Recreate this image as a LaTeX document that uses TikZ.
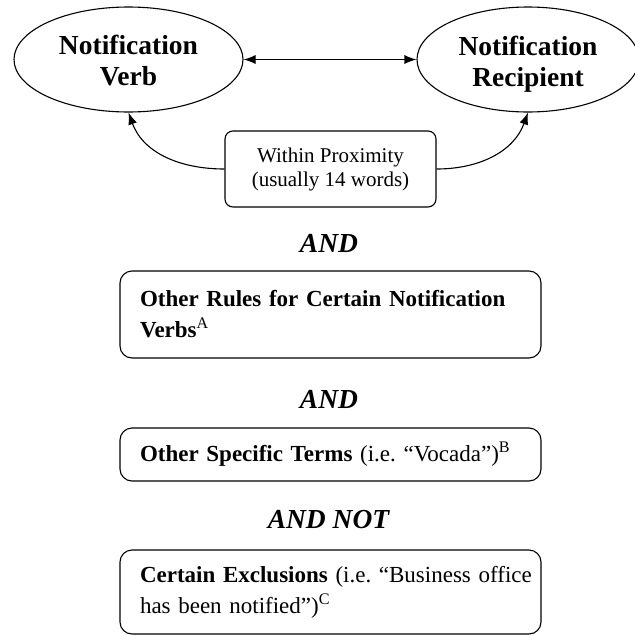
\documentclass[tikz,border=0pt]{standalone}
\usepackage{fontspec}
\setmainfont{Liberation Serif}
\usetikzlibrary{shapes.geometric,arrows.meta}
\frenchspacing
\begin{document}
\begin{tikzpicture}[x=1pt,y=-1pt,line width=1.1pt,
  ell/.style={ellipse,draw,inner sep=0pt,minimum height=105pt,align=center,
    font=\fontsize{27.5}{31}\selectfont\bfseries},
  rbox/.style={rectangle,draw,rounded corners=12pt,align=left,inner xsep=20pt,inner ysep=0pt,
    text width=381pt,font=\fontsize{23}{31}\selectfont\frenchspacing},
  proxbox/.style={rectangle,draw,rounded corners=8pt,align=center,inner sep=0pt,
    minimum width=211pt,minimum height=76pt,font=\fontsize{21}{24}\selectfont},
  opword/.style={font=\fontsize{27.5}{31}\selectfont\bfseries\itshape,inner sep=0pt,anchor=base},
  tip/.tip={Latex[length=12pt,width=9pt]},
  conn/.style={-tip}]
\useasboundingbox (0,0) rectangle (635,635);

\node[ell,minimum width=229pt] (verb) at (128.5,59.5) {\rule{0pt}{22pt}Notification\\Verb};
\node[ell,minimum width=222pt] (recip) at (528,59.5) {\rule{0pt}{22pt}Notification\\\smash{Recipient}};

\node[proxbox] (prox) at (330.5,169) {Within Proximity\\(usually 14 words)};

\node[opword] (and1) at (329,252) {AND};
\node[rbox,minimum height=87pt] (rules) at (330.5,314.5)
  {\mbox{\textbf{Other Rules for Certain Notification}}\\\mbox{\textbf{Verbs}\textsuperscript{A}}};

\node[opword] (and2) at (329,408) {AND};
\node[rbox,minimum height=53pt] (terms) at (330.5,454.5)
  {\mbox{\textbf{Other Specific Terms} (i.e. “Vocada”)\textsuperscript{B}}};

\node[opword] (andnot) at (328.5,528) {AND NOT};
\node[rbox,minimum height=84pt] (excl) at (330.5,592)
  {\mbox{\textbf{Certain Exclusions} (i.e. “Business office}\\\mbox{has been notified”)\textsuperscript{C}}};

\draw[tip-tip] (verb) -- (recip);
\draw[conn] (prox.west) to[out=180,in=-70] (verb.south);
\draw[conn] (prox.east) to[out=0,in=-110] (recip.south);
\end{tikzpicture}
\end{document}
